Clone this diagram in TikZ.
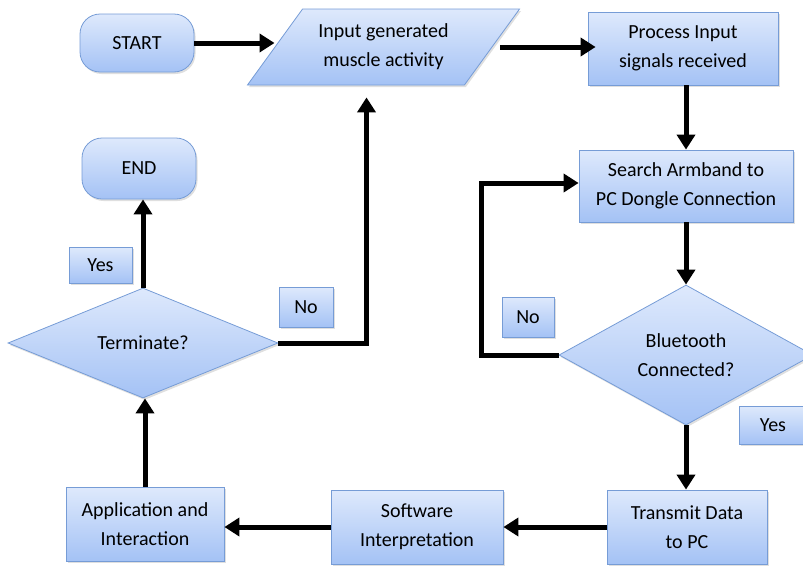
\documentclass[tikz,border=0pt]{standalone}
\usepackage{fontspec}
\setmainfont{Carlito}
\usetikzlibrary{arrows.meta,positioning,shapes.geometric,shadows}
\definecolor{boxtop}{RGB}{222,233,252}
\definecolor{boxbot}{RGB}{164,194,245}
\definecolor{boxline}{RGB}{118,156,214}
\tikzset{%
	flowbase/.style  = {draw=boxline, line width=0.8pt, top color=boxtop, bottom color=boxbot, align=center, inner sep=0pt, font=\fontsize{20}{29}\selectfont, drop shadow={shadow xshift=1.5pt, shadow yshift=-2pt, opacity=0.25}},
	startstop/.style = {flowbase, rectangle, rounded corners=20pt},
	inout/.style     = {flowbase, trapezium, trapezium left angle=54, trapezium right angle=126},
	process/.style   = {flowbase, rectangle},
	decision/.style  = {flowbase, diamond},
	answer/.style    = {flowbase, rectangle}, % Yes / No tags
	arrow/.style     = {line width=5pt, line join=miter, -{Triangle[length=15pt,width=18pt]}},
}
\begin{document}
\begin{tikzpicture}[x=1pt,y=-1pt]
		\useasboundingbox (0,0) rectangle (803,565);
		\node [startstop, minimum width=114pt, minimum height=58pt] (start) at (137,43) {START};
		\node [inout, inner xsep=-16pt, minimum height=76pt] (input) at (383.5,47) {Input generated\\muscle activity};
		\node [process, minimum width=190pt, minimum height=73pt] (proc) at (683,48.5) {Process Input\\signals received};
		\node [process, minimum width=214pt, minimum height=72pt] (search) [below of=proc, xshift=3pt, node distance=137.5pt] {Search Armband to\\PC Dongle Connection};
		\node [decision, minimum width=254pt, minimum height=140pt] (bt) [below of=search, node distance=169pt] {Bluetooth\\Connected?};
		\node [process, minimum width=160pt, minimum height=74pt] (tx) at (687,527) {Transmit Data\\to PC};
		\node [process, minimum width=172pt, minimum height=74pt] (sw) [left of=tx, node distance=270pt] {Software\\Interpretation};
		\node [process, minimum width=158pt, minimum height=74pt] (app) at (145,524) {Application and\\Interaction};
		\node [decision, minimum width=270pt, minimum height=110pt] (term) at (143,343) {Terminate?};
		\node [startstop, minimum width=114pt, minimum height=61pt] (stop) at (139,168.5) {END};
		\node [answer, minimum width=63pt, minimum height=36pt] (yesL) at (100.5,265) {Yes};
		\node [answer, minimum width=54pt, minimum height=40pt] (noL) at (306,307) {No};
		\node [answer, minimum width=52pt, minimum height=40pt] (noR) at (528,317) {No};
		\node [answer, minimum width=68pt, minimum height=38pt] (yesR) at (773,425) {Yes};
		
		\draw[arrow] (start.east) -- (start.east -| input.west);
		\draw[arrow] ([xshift=8pt]input.east) -- ([xshift=8pt]input.east -| proc.west);
		\draw[arrow] (search |- proc.south) -- (search);
		\draw[arrow] (search) -- (bt);
		\draw[arrow] (bt.south) -- (bt.south |- tx.north);
		\draw[arrow] (tx) -- (sw);
		\draw[arrow] (sw.west) -- (sw.west -| app.east);
		\draw[arrow] (app.north) -- (app.north |- term.south);
		\draw[arrow] (term.north) -- (term.north |- stop.south);
		\draw[arrow] (term.east) -| ([xshift=-17pt,yshift=-12pt]input.south);
		\draw[arrow] (bt.west) -- ++(-77,0) |- ([yshift=3pt]search.west);
		\end{tikzpicture}
\end{document}
